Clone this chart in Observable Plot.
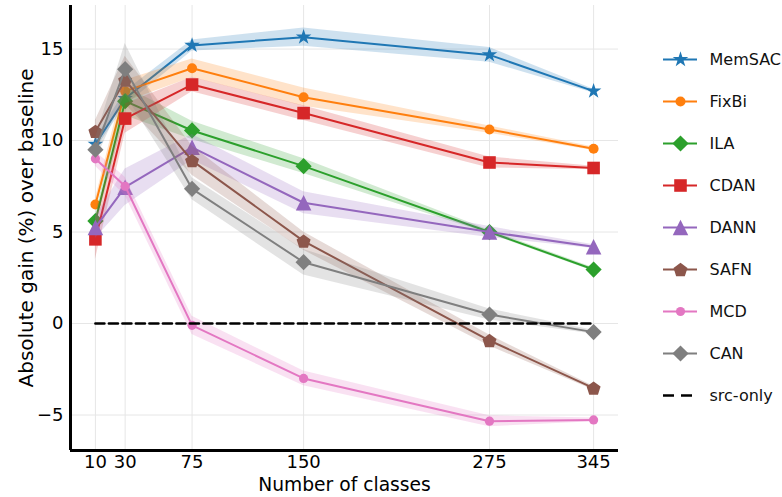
<!DOCTYPE html>
<html><head><meta charset="utf-8">
<script src="https://cdn.jsdelivr.net/npm/d3@7"></script>
<script src="https://cdn.jsdelivr.net/npm/@observablehq/plot@0.6"></script>
<style>
body{margin:0;background:#fff;font-family:"DejaVu Sans",sans-serif;}
#wrap{position:relative;width:782px;height:497px;overflow:hidden;}
#main{position:absolute;left:0;top:0;}
#legend{position:absolute;left:640px;top:0;}
</style></head><body><div id="wrap"><div id="main"></div><div id="legend"></div></div>
<script>
// ---- data ----
const classes = [10, 30, 75, 150, 275, 345];
const methods = ["MemSAC", "FixBi", "ILA", "CDAN", "DANN", "SAFN", "MCD", "CAN"];
const memsac = [9.8, 12.3, 15.2, 15.65, 14.68, 12.7];
const fixbi  = [6.5, 12.7, 13.95, 12.37, 10.6, 9.55];
const ila    = [5.6, 12.15, 10.55, 8.6, 5.0, 2.95];
const cdan   = [4.6, 11.2, 13.06, 11.5, 8.8, 8.5];
const dann   = [5.25, 7.45, 9.63, 6.6, 5.0, 4.2];
const safn   = [10.5, 13.3, 8.9, 4.5, -0.93, -3.53];
const mcd    = [9.0, 7.5, -0.1, -3.0, -5.34, -5.27];
const can    = [9.5, 13.9, 7.36, 3.35, 0.49, -0.47];
const srcOnly = [0, 0, 0, 0, 0, 0];
// std (shaded band half-width)
const memsacStd = [0.3, 0.4, 0.3, 0.5, 0.4, 0.1];
const fixbiStd  = [0.3, 0.6, 0.5, 0.5, 0.2, 0.1];
const ilaStd    = [0.3, 0.8, 0.5, 0.4, 0.1, 0.1];
const cdanStd   = [1.1, 0.8, 0.4, 0.4, 0.3, 0.1];
const dannStd   = [0.6, 1.0, 0.7, 0.6, 0.3, 0.1];
const safnStd   = [0.6, 1.3, 0.8, 0.5, 0.3, 0.1];
const mcdStd    = [0.4, 0.5, 0.5, 0.4, 0.3, 0.1];
const canStd    = [0.6, 1.4, 0.6, 0.7, 0.3, 0.1];
const yTicks = [-5, 0, 5, 10, 15];
const xLabel = "Number of classes";
const yLabel = "Absolute gain (%) over baseline";

// ---- styling ----
const colors = ["#1f77b4", "#ff7f0e", "#2ca02c", "#d62728", "#9467bd", "#8c564b", "#e377c2", "#7f7f7f"];
const pentagon = {draw(ctx, size) {
  const R = Math.sqrt(size / 2.3776);
  for (let i = 0; i < 5; i++) {
    const a = -Math.PI / 2 + i * 2 * Math.PI / 5;
    const px = R * Math.cos(a), py = R * Math.sin(a) + R * 0.095;
    i ? ctx.lineTo(px, py) : ctx.moveTo(px, py);
  }
  ctx.closePath();
}};
const triUp = {draw(ctx, size) {
  const h = Math.sqrt(size / 2);
  ctx.moveTo(0, -h); ctx.lineTo(h, h); ctx.lineTo(-h, h); ctx.closePath();
}};
const symbols = ["star", "circle", "diamond2", "square", triUp, pentagon, "circle", "diamond2"];
const radii = [4.9, 5, 7.3, 7.1, 6.2, 6.4, 4.6, 7.3];

const values = [memsac, fixbi, ila, cdan, dann, safn, mcd, can];
const stds = [memsacStd, fixbiStd, ilaStd, cdanStd, dannStd, safnStd, mcdStd, canStd];
const series = methods.map((m, i) => classes.map((c, j) => ({
  method: m, x: c, y: values[i][j], lo: values[i][j] - stds[i][j], hi: values[i][j] + stds[i][j]
})));
const baseRows = classes.map((c, j) => ({x: c, y: srcOnly[j]}));

const xDomain = [-6.75, 361.75];
const yDomain = [-6.94, 17.38];
const font = "DejaVu Sans, sans-serif";

const seriesMarks = series.flatMap((rows, i) => [
  Plot.areaY(rows, {x: "x", y1: "lo", y2: "hi", fill: colors[i], fillOpacity: 0.22}),
  Plot.lineY(rows, {x: "x", y: "y", stroke: colors[i], strokeWidth: 2}),
  Plot.dot(rows, {x: "x", y: "y", symbol: symbols[i], r: radii[i], fill: colors[i], stroke: "none"})
]);

const main = Plot.plot({
  width: 640, height: 497,
  marginLeft: 70, marginRight: 22, marginTop: 5, marginBottom: 47,
  style: {fontFamily: font, background: "white", overflow: "visible"},
  x: {domain: xDomain, ticks: classes},
  y: {domain: yDomain, ticks: yTicks},
  marks: [
    Plot.gridX(classes, {stroke: "#e6e6e6", strokeOpacity: 1, strokeWidth: 1}),
    Plot.gridY(yTicks, {stroke: "#e6e6e6", strokeOpacity: 1, strokeWidth: 1}),
    ...seriesMarks,
    Plot.lineY(baseRows, {x: "x", y: "y", stroke: "black", strokeWidth: 2.6, strokeDasharray: "9,4.5"}),
    Plot.ruleX([xDomain[0]], {strokeWidth: 3, stroke: "black"}),
    Plot.ruleY([yDomain[0]], {strokeWidth: 3, stroke: "black"}),
    Plot.axisX(classes, {tickSize: 0, tickPadding: 5, fontSize: 18, label: xLabel, labelAnchor: "center", labelArrow: "none", labelOffset: 40, stroke: null}),
    Plot.axisY(yTicks, {tickSize: 0, tickPadding: 7, fontSize: 18, label: yLabel, labelAnchor: "center", labelArrow: "none", labelOffset: 52, stroke: null})
  ]
});
document.getElementById("main").append(main);
main.querySelectorAll("text").forEach(t => {
  const s = t.textContent.trim();
  if (s === xLabel) { t.setAttribute("font-size", "18.7"); t.style.fontSize = "18.7px"; }
  if (s === yLabel) { t.setAttribute("font-size", "20"); t.style.fontSize = "20px"; }
});

// ---- legend ----
const legendNames = [...methods, "src-only"];
const legRows = methods.map((m, i) => ({name: m, i}));
const legend = Plot.plot({
  width: 142, height: 497, margin: 0,
  style: {fontFamily: font, background: "white"},
  x: {domain: [0, 1], range: [23, 57], axis: null},
  y: {type: "point", domain: legendNames, range: [35, 418], axis: null},
  marks: [
    ...legRows.flatMap(d => [
      Plot.ruleY([d.name], {y: v => v, x1: 0, x2: 1, stroke: colors[d.i], strokeWidth: 2}),
      Plot.dot([d.name], {y: v => v, x: 0.5, symbol: symbols[d.i], r: radii[d.i], fill: colors[d.i], stroke: "none"})
    ]),
    Plot.ruleY(["src-only"], {y: v => v, x1: 0, x2: 1, stroke: "black", strokeWidth: 2.6, strokeDasharray: "11,7"}),
    Plot.text(legendNames, {y: v => v, x: 1, dx: 12, text: v => v, textAnchor: "start", fontSize: 16, fill: "#111"})
  ]
});
document.getElementById("legend").append(legend);
</script></body></html>
